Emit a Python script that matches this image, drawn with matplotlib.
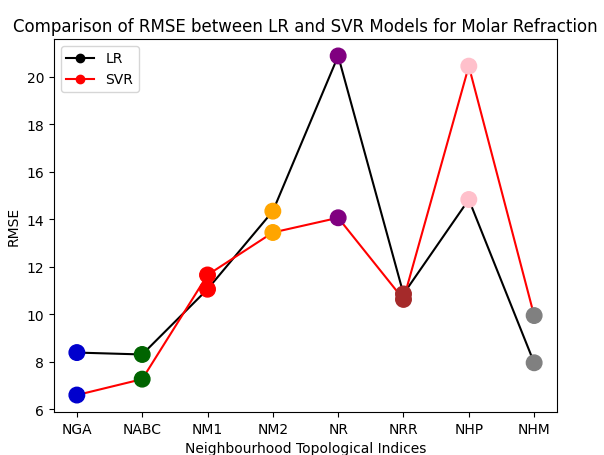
"""
RMSE comparison of LR and SVR models over neighbourhood topological indices.
"""

import numpy as np
from matplotlib import pyplot as plt

# Data
indices = ['NGA', 'NABC', 'NM1', 'NM2', 'NR', 'NRR', 'NHP', 'NHM']
rmse_lr = [8.38, 8.30, 11.05, 14.34, 20.88, 10.85, 14.83, 7.95]
rmse_svr = [6.59, 7.26, 11.65, 13.44, 14.06, 10.62, 20.45, 9.94]
point_colors = ['mediumblue', 'darkgreen', 'red', 'orange',
                'purple', 'brown', 'pink', 'gray']

fig = plt.figure(figsize=(6.04, 4.56), dpi=100)
ax = fig.add_axes([0.0894, 0.0943, 0.8328, 0.818])

x = np.arange(len(indices))
ax.plot(x, rmse_lr, marker='o', color='black', label='LR', zorder=2)
ax.plot(x, rmse_svr, marker='o', color='red', label='SVR', zorder=2)

# coloured markers for each index on top of both lines
ax.scatter(x, rmse_lr, c=point_colors, s=125, zorder=3)
ax.scatter(x, rmse_svr, c=point_colors, s=125, zorder=3)

ax.set_xticks(x)
ax.set_xticklabels(indices)
ax.set_xlabel('Neighbourhood Topological Indices')
ax.set_ylabel('RMSE')
ax.set_title('Comparison of RMSE between LR and SVR Models for Molar Refraction')
ax.legend(loc='upper left')

fig.savefig('out.png', dpi=100)
